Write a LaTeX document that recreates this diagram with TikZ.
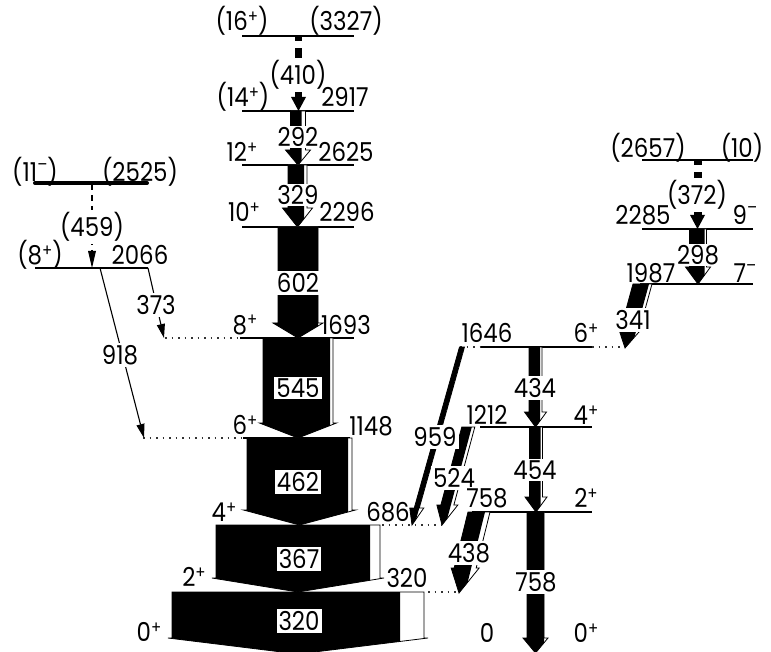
\documentclass[tikz,border=0pt]{standalone}
\usepackage{fontspec}
\setmainfont{Poppins}[FakeStretch=0.88]
\usetikzlibrary{arrows.meta}
\newcommand{\supr}[1]{\raisebox{8.5pt}{\fontsize{17}{17}\selectfont #1}}
\newcommand{\spl}{\supr{+}}
\newcommand{\smn}{\raisebox{11pt}{\fontsize{17}{17}\selectfont \textendash}}
% gamma arrow: x0,y0 (top centre), xt,yt (tip), black width, white width, head overhang, head length
\newcommand{\gam}[8]{%
 \pgfmathsetmacro{\gW}{#5+#6}%
 \pgfmathsetmacro{\gyb}{#4-#8}%
 \pgfmathsetmacro{\gxb}{#1+(#3-#1)*(\gyb-#2)/(#4-#2)}%
 \pgfmathsetmacro{\gLz}{#1-\gW/2}%
 \pgfmathsetmacro{\gRz}{#1+\gW/2}%
 \pgfmathsetmacro{\gLb}{\gxb-\gW/2}%
 \pgfmathsetmacro{\gRb}{\gxb+\gW/2}%
 \pgfmathsetmacro{\gSz}{\gLz+#5}%
 \pgfmathsetmacro{\gSt}{\gSz+(#3-#1)}%
 \pgfmathsetmacro{\gRe}{\gRb+#7}%
 \pgfmathsetmacro{\gLe}{\gLb-#7}%
 \filldraw[fill=white, draw=black, line width=0.8] (\gLz,#2) -- (\gRz,#2) -- (\gRb,\gyb) -- (\gRe,\gyb) -- (#3,#4) -- (\gLe,\gyb) -- (\gLb,\gyb) -- cycle;
 \begin{scope}
 \clip (\gSz-2000,#2) -- (\gSz,#2) -- (\gSt,#4) -- (\gSt-2000,#4) -- cycle;
 \fill[black] (\gLz,#2) -- (\gRz,#2) -- (\gRb,\gyb) -- (\gRe,\gyb) -- (#3,#4) -- (\gLe,\gyb) -- (\gLb,\gyb) -- cycle;
 \end{scope}
}
\begin{document}
\begin{tikzpicture}[x=1pt,y=-1pt, font=\fontsize{26}{26}\selectfont,
 lvl/.style={line width=1.1},
 dotl/.style={line width=1.2, dash pattern=on 1.5pt off 5pt, black!80},
 lab/.style={inner sep=0pt, anchor=center},
 glab/.style={fill=white, inner sep=2pt, anchor=center},
 thinarr/.style={line width=1.1, -{Triangle[length=14pt,width=8pt]}}]
\useasboundingbox (0,0) rectangle (771,652);

% ---------- levels ----------
\draw[lvl] (242,36) -- (354,36);
\draw[lvl] (242,111) -- (354,111);
\draw[lvl] (242,165) -- (354,165);
\draw[lvl] (242,227) -- (354,227);
\draw[lvl] (240,338) -- (354,338);
\draw[lvl] (243,438) -- (350,438);
\draw[line width=4, line cap=round] (35,183) -- (147,183);
\draw[lvl] (35,268) -- (148,268);
\draw[lvl] (480,347) -- (592,347);
\draw[lvl] (480,427) -- (592,427);
\draw[lvl] (472,512) -- (592,512);
\draw[lvl] (642,160) -- (753,160);
\draw[lvl] (642,229) -- (753,229);
\draw[lvl] (640,284) -- (753,284);

% ---------- dotted links ----------
\draw[dotl] (165,338) -- (240,338);
\draw[dotl] (143,438) -- (243,438);
\draw[dotl] (382,525) -- (442,525);
\draw[dotl] (428,592) -- (458,592);
\draw[dotl] (460,347) -- (480,347);
\draw[dotl] (592,347) -- (625,347);

% ---------- gamma transitions ----------
\gam{298}{111}{298}{165}{11}{4}{5}{15}
\gam{297.5}{165}{297.5}{227}{16}{3}{5.5}{19}
\gam{298}{227}{298}{338}{40}{0}{5}{15}
\gam{298}{338}{298}{438}{67}{3}{3.5}{15}
\gam{299.5}{438}{299.5}{525}{101}{4}{3.5}{15}
\gam{298}{525}{298}{592}{154}{10}{4}{14}
\gam{298}{592}{298}{654}{228}{24}{4}{16}
\gam{535.5}{347}{535.5}{427}{11}{2}{4.5}{15}
\gam{536}{427}{536}{512}{11}{2}{4.5}{15}
\gam{535.5}{512}{535.5}{653}{17}{0}{4}{15}
\gam{462}{347}{412}{525}{5}{0}{4.5}{17}
\gam{468.3}{427}{442}{525}{10}{3}{4}{20}
\gam{479}{512}{459}{593}{17}{5}{3}{25}
\gam{642.5}{284}{625}{348}{16}{3}{2.5}{20}
\gam{698}{229}{698}{284}{15}{2}{4}{17}

% tentative thick dashed
\fill (295,36) rectangle (302,41);
\fill (295,48) rectangle (302,62);
\fill (295,90) rectangle (302,97);
\fill (291,97) -- (306,97) -- (298.5,111) -- cycle;
\fill (693.5,160) rectangle (701.5,165);
\fill (693.5,172) rectangle (701.5,182);
\fill (693.5,207) rectangle (701.5,215);
\fill (690,215) -- (705,215) -- (697.5,229) -- cycle;

% thin transitions
\draw[line width=1.1, dash pattern=on 6pt off 5pt] (92,184) -- (92,252);
\fill (88,251) -- (96,251) -- (92,268) -- cycle;
\draw[thinarr] (148,268) -- (164,338);
\draw[thinarr] (100,268) -- (144,438);

% ---------- transition labels ----------
\node[glab] (g410) at (298,75) {(410)};
\node[glab, inner sep=1pt] (g292) at (298,137) {292};
\node[glab, inner sep=1pt] (g329) at (298,195) {329};
\node[glab] (g602) at (298,283) {602};
\node[glab] (g545) at (298,388) {545};
\node[glab] (g462) at (298,482) {462};
\node[glab] (g367) at (299,559) {367};
\node[glab] (g320) at (299,621) {320};
\node[glab] (g459) at (92,227) {(459)};
\node[glab] (g373) at (156,305) {373};
\node[glab] (g918) at (120,355) {918};
\node[glab] (g434) at (535,388) {434};
\node[glab] (g454) at (535,470) {454};
\node[glab] (g758) at (536,582) {758};
\node[glab] (g959) at (435,437) {959};
\node[glab] (g524) at (454,478) {524};
\node[glab] (g438) at (469,553) {438};
\node[glab] (g372) at (697,195) {(372)};
\node[glab, inner sep=1pt] (g298) at (698,255) {298};
\node[glab] (g341) at (633,320) {341};

% ---------- level labels ----------
\node[lab] (l16) at (242,21) {(16\spl)};
\node[lab] (e16) at (346,21) {(3327)};
\node[lab] (l14) at (243,97) {(14\spl)};
\node[lab] (e14) at (345,97) {2917};
\node[lab] (l12) at (242,152) {12\spl};
\node[lab] (e12) at (346,152) {2625};
\node[lab] (l10) at (244,212) {10\spl};
\node[lab] (e10) at (347,212) {2296};
\node[lab] (l8) at (245,325) {8\spl};
\node[lab] (e8) at (346,325) {1693};
\node[lab] (l6) at (245,425) {6\spl};
\node[lab] (e6) at (371,426) {1148};
\node[lab] (l4) at (224,512) {4\spl};
\node[lab] (e4) at (388,512) {686};
\node[lab] (l2) at (194,577) {2\spl};
\node[lab] (e2) at (407,578) {320};
\node[lab] (l0) at (149,632) {0\spl};
\node[lab] (l11) at (35,172) {(11\smn)};
\node[lab] (e11) at (140,172) {(2525)};
\node[lab] (l8b) at (40,255) {(8\spl)};
\node[lab] (e8b) at (140,255) {2066};
\node[lab] (e1646) at (487,333) {1646};
\node[lab] (l1646) at (586,333) {6\spl};
\node[lab] (e1212) at (487,415) {1212};
\node[lab] (l1212) at (586,415) {4\spl};
\node[lab] (e758) at (487,498) {758};
\node[lab] (l758) at (586,498) {2\spl};
\node[lab] (e0) at (487,633) {0};
\node[lab] (l0b) at (586,633) {0\spl};
\node[lab] (e2657) at (648,148) {(2657)};
\node[lab] (l2657) at (742,148) {(10)};
\node[lab] (e2285) at (643,215) {2285};
\node[lab] (l2285) at (745,215) {9\smn};
\node[lab] (e1987) at (651,273) {1987};
\node[lab] (l1987) at (745,273) {7\smn};
\end{tikzpicture}
\end{document}
